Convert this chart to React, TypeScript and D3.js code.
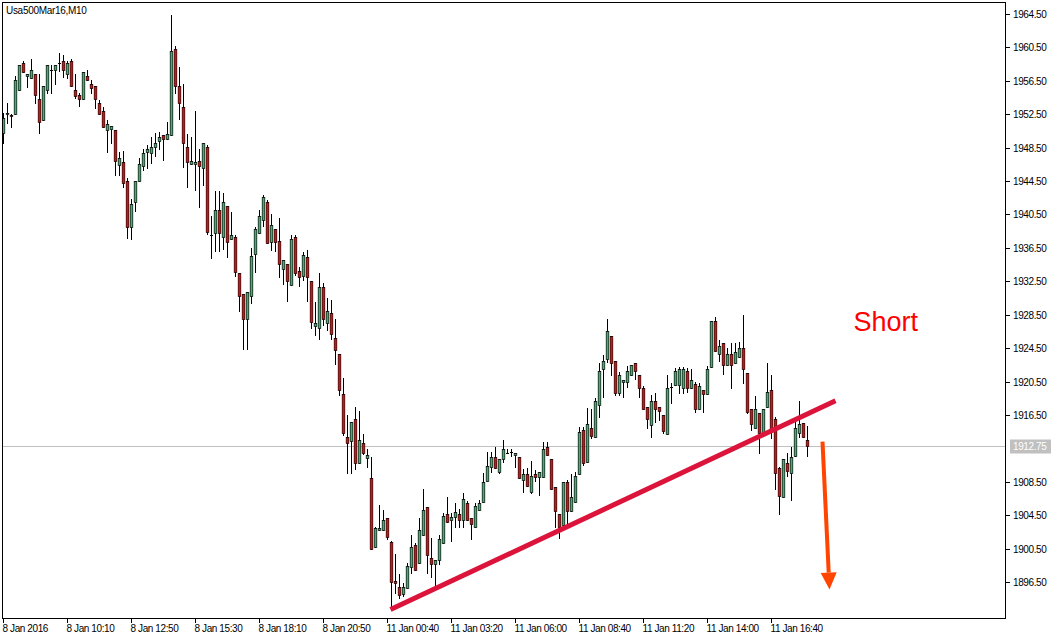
import React from 'react';
import * as d3 from 'd3';

const title = 'Usa500Mar16,M10';

const opens = [
  1950.3, 1952.5, 1952.4, 1952.5, 1955.4, 1958.6, 1957.1, 1956.8, 1957.3, 1954.3,
  1951.8, 1955.4, 1957.8, 1957.8, 1958.6, 1958.9, 1957.3, 1958.9, 1955.4, 1954.8,
  1954.3, 1957.1, 1956.1, 1955.9, 1953.8, 1952.9, 1950.6, 1950.7, 1950.6, 1946.4,
  1946.8, 1944.5, 1939.0, 1942.0, 1944.5, 1946.3, 1948.0, 1947.9, 1948.6, 1949.3,
  1950.0, 1949.5, 1950.0, 1960.3, 1955.9, 1953.4, 1948.6, 1946.6, 1946.5, 1946.9,
  1946.1, 1948.6, 1938.0, 1938.3, 1941.0, 1937.8, 1941.5, 1937.6, 1937.8, 1933.5,
  1931.0, 1928.0, 1930.7, 1935.8, 1938.3, 1939.8, 1942.0, 1937.2, 1938.8, 1937.3,
  1934.0, 1934.6, 1932.1, 1937.8, 1933.7, 1933.1, 1935.4, 1932.5, 1927.2, 1926.9,
  1931.8, 1927.5, 1928.7, 1925.7, 1923.8, 1919.0, 1913.9, 1913.4, 1916.0, 1910.8,
  1913.1, 1911.3, 1909.0, 1900.7, 1902.7, 1902.7, 1904.2, 1901.3, 1896.6, 1895.9,
  1895.1, 1895.8, 1898.3, 1900.9, 1898.8, 1902.1, 1905.5, 1899.4, 1898.7, 1899.1,
  1901.2, 1904.6, 1903.9, 1904.3, 1904.6, 1903.9, 1906.0, 1904.2, 1903.1, 1905.1,
  1906.1, 1908.6, 1910.3, 1911.5, 1909.7, 1911.2, 1911.9, 1912.1, 1911.7, 1911.5,
  1908.7, 1909.4, 1907.3, 1909.4, 1909.1, 1909.1, 1912.7, 1911.2, 1907.9, 1904.6,
  1903.3, 1908.5, 1905.0, 1906.1, 1909.4, 1914.7, 1910.9, 1914.9, 1913.9, 1917.7,
  1922.0, 1923.2, 1926.0, 1923.0, 1919.1, 1920.4, 1920.4, 1921.3, 1922.7, 1921.3,
  1919.7, 1917.5, 1915.3, 1918.2, 1917.5, 1916.5, 1914.2, 1919.8, 1920.1, 1920.1,
  1919.7, 1921.8, 1919.7, 1920.2, 1917.2, 1919.5, 1919.0, 1922.2, 1927.8, 1923.8,
  1925.1, 1922.5, 1923.8, 1922.7, 1923.4, 1924.5, 1921.5, 1917.2, 1914.9, 1916.7,
  1914.3, 1917.5, 1919.5, 1916.0, 1910.2, 1906.7, 1910.8, 1909.6, 1911.6, 1914.3,
  1915.5, 1913.5,
];

const highs = [
  1952.6, 1953.8, 1952.5, 1957.1, 1958.4, 1958.9, 1957.3, 1959.1, 1957.3, 1957.3,
  1955.9, 1958.4, 1958.4, 1958.4, 1959.8, 1959.6, 1958.9, 1959.1, 1957.3, 1955.0,
  1957.6, 1957.8, 1956.6, 1955.9, 1954.2, 1953.4, 1951.8, 1951.1, 1950.6, 1948.0,
  1948.1, 1944.9, 1942.4, 1944.5, 1947.3, 1948.3, 1948.8, 1949.8, 1950.3, 1950.4,
  1950.0, 1951.6, 1964.4, 1960.7, 1958.2, 1956.1, 1950.1, 1949.8, 1952.9, 1948.3,
  1949.1, 1948.8, 1940.3, 1943.3, 1943.3, 1943.1, 1941.5, 1940.8, 1938.0, 1933.5,
  1931.0, 1931.2, 1936.5, 1939.0, 1941.0, 1942.8, 1942.2, 1940.6, 1938.8, 1940.1,
  1935.0, 1934.6, 1938.0, 1938.0, 1934.2, 1936.0, 1936.2, 1932.5, 1930.0, 1933.5,
  1932.3, 1930.5, 1930.3, 1928.0, 1923.8, 1920.9, 1916.5, 1915.7, 1917.5, 1917.0,
  1914.2, 1912.4, 1911.5, 1903.1, 1905.7, 1905.1, 1904.2, 1901.4, 1899.9, 1897.5,
  1896.4, 1898.8, 1902.1, 1901.2, 1904.2, 1907.6, 1905.5, 1901.8, 1899.1, 1902.1,
  1904.8, 1906.7, 1904.8, 1906.0, 1905.2, 1907.2, 1906.2, 1904.2, 1906.0, 1906.3,
  1909.6, 1912.1, 1912.1, 1912.7, 1911.2, 1913.5, 1912.4, 1912.4, 1911.9, 1911.5,
  1910.0, 1910.2, 1911.0, 1909.9, 1909.7, 1913.3, 1913.3, 1911.2, 1907.9, 1904.6,
  1908.5, 1908.7, 1909.4, 1909.7, 1915.1, 1915.1, 1917.3, 1917.2, 1918.5, 1922.7,
  1923.7, 1928.0, 1926.0, 1923.0, 1921.6, 1920.7, 1922.4, 1922.5, 1922.7, 1921.3,
  1920.0, 1917.5, 1918.9, 1919.1, 1917.5, 1916.5, 1921.3, 1920.3, 1922.1, 1922.2,
  1922.2, 1922.1, 1922.0, 1920.4, 1920.3, 1919.5, 1922.4, 1927.8, 1928.2, 1925.5,
  1925.1, 1924.5, 1925.1, 1925.1, 1925.2, 1928.5, 1921.5, 1917.2, 1918.8, 1916.7,
  1917.2, 1922.7, 1921.3, 1916.3, 1910.3, 1911.2, 1911.9, 1912.7, 1915.7, 1918.2,
  1915.5, 1915.2,
];

const lows = [
  1949.1, 1951.4, 1951.0, 1952.5, 1955.4, 1957.6, 1955.8, 1956.8, 1953.8, 1950.3,
  1951.8, 1955.0, 1955.0, 1956.1, 1957.7, 1957.0, 1956.8, 1955.9, 1954.4, 1953.5,
  1954.3, 1956.6, 1955.0, 1953.2, 1952.5, 1951.0, 1948.0, 1949.1, 1945.2, 1945.2,
  1943.8, 1937.7, 1937.6, 1940.9, 1944.5, 1945.8, 1946.1, 1946.7, 1947.5, 1948.3,
  1947.0, 1949.5, 1950.0, 1955.0, 1951.9, 1946.2, 1943.8, 1946.6, 1943.4, 1941.4,
  1944.0, 1938.2, 1935.3, 1936.1, 1936.1, 1936.4, 1935.4, 1937.6, 1933.1, 1928.9,
  1924.4, 1924.4, 1929.9, 1933.6, 1938.3, 1939.1, 1937.1, 1936.2, 1936.1, 1933.0,
  1932.2, 1930.1, 1932.1, 1933.3, 1931.9, 1932.7, 1930.1, 1926.9, 1926.1, 1925.6,
  1927.3, 1926.7, 1925.6, 1922.6, 1918.9, 1914.1, 1909.6, 1909.6, 1910.0, 1910.8,
  1911.8, 1910.3, 1900.5, 1900.7, 1902.7, 1902.7, 1901.6, 1893.2, 1895.2, 1894.6,
  1894.8, 1895.8, 1897.6, 1897.9, 1898.8, 1902.1, 1897.6, 1897.1, 1895.9, 1898.7,
  1901.2, 1903.7, 1901.4, 1903.1, 1903.1, 1903.1, 1903.9, 1901.6, 1903.1, 1905.1,
  1906.1, 1908.6, 1909.7, 1910.2, 1909.6, 1910.9, 1911.9, 1911.6, 1910.3, 1909.0,
  1907.3, 1908.0, 1907.2, 1908.6, 1906.9, 1909.1, 1911.7, 1907.6, 1903.1, 1901.8,
  1903.1, 1903.5, 1905.0, 1906.1, 1909.4, 1910.5, 1910.9, 1913.7, 1913.9, 1916.3,
  1918.6, 1922.8, 1921.3, 1918.9, 1918.9, 1918.6, 1919.8, 1921.3, 1920.8, 1918.6,
  1917.2, 1914.9, 1913.9, 1915.7, 1915.9, 1914.3, 1914.2, 1917.9, 1920.1, 1919.1,
  1919.1, 1919.2, 1919.7, 1916.9, 1917.2, 1916.9, 1919.0, 1922.2, 1924.2, 1923.0,
  1921.4, 1922.5, 1919.7, 1922.7, 1923.4, 1920.3, 1916.7, 1914.7, 1914.9, 1911.9,
  1914.3, 1917.5, 1913.7, 1907.6, 1904.6, 1906.7, 1909.2, 1906.3, 1911.6, 1913.9,
  1913.9, 1911.6,
];

const closes = [
  1952.0, 1952.6, 1952.3, 1956.6, 1958.4, 1957.6, 1957.3, 1957.8, 1954.8, 1951.6,
  1955.9, 1958.4, 1957.8, 1958.4, 1958.6, 1957.8, 1958.6, 1955.9, 1954.7, 1954.3,
  1957.6, 1956.6, 1955.6, 1954.3, 1952.5, 1951.0, 1951.3, 1951.1, 1946.9, 1947.3,
  1944.3, 1939.0, 1941.8, 1944.5, 1946.5, 1947.9, 1948.3, 1948.6, 1949.1, 1949.8,
  1949.5, 1950.1, 1960.1, 1955.9, 1953.8, 1949.1, 1946.8, 1946.9, 1946.8, 1946.3,
  1949.1, 1938.4, 1938.0, 1941.0, 1938.3, 1942.0, 1937.2, 1938.0, 1933.6, 1930.7,
  1928.0, 1931.2, 1935.5, 1938.8, 1940.3, 1942.6, 1937.1, 1939.2, 1937.2, 1934.6,
  1935.0, 1932.5, 1937.6, 1933.5, 1933.0, 1935.6, 1933.0, 1927.6, 1927.5, 1931.8,
  1928.0, 1928.9, 1926.2, 1924.3, 1919.5, 1914.3, 1913.1, 1915.7, 1910.8, 1913.5,
  1911.9, 1911.7, 1900.5, 1903.0, 1903.0, 1903.9, 1901.9, 1896.5, 1896.4, 1895.0,
  1895.9, 1898.4, 1900.7, 1897.9, 1902.7, 1905.1, 1899.7, 1898.7, 1899.1, 1901.6,
  1904.4, 1903.7, 1904.3, 1904.9, 1903.9, 1906.4, 1903.9, 1903.5, 1905.6, 1906.0,
  1908.5, 1910.4, 1911.5, 1910.2, 1911.2, 1912.4, 1911.9, 1912.1, 1911.9, 1909.0,
  1909.4, 1908.0, 1909.2, 1909.1, 1909.7, 1912.4, 1911.7, 1907.6, 1905.0, 1903.1,
  1908.5, 1905.0, 1906.7, 1909.2, 1914.5, 1910.8, 1915.4, 1914.0, 1918.2, 1921.8,
  1923.0, 1926.6, 1922.7, 1919.1, 1921.3, 1920.7, 1921.8, 1922.5, 1921.8, 1919.7,
  1917.2, 1916.0, 1918.2, 1917.2, 1917.0, 1914.6, 1919.7, 1919.8, 1921.8, 1922.0,
  1922.0, 1919.7, 1920.7, 1917.2, 1920.0, 1919.0, 1922.0, 1927.8, 1924.2, 1924.8,
  1922.5, 1923.8, 1922.5, 1924.0, 1924.5, 1922.0, 1916.9, 1915.4, 1917.2, 1914.3,
  1917.2, 1919.2, 1914.5, 1909.6, 1906.8, 1911.2, 1909.8, 1911.5, 1914.9, 1915.4,
  1913.9, 1912.75,
];

const timeLabels = [
  '8 Jan 2016', '8 Jan 10:10', '8 Jan 12:50', '8 Jan 15:30', '8 Jan 18:10',
  '8 Jan 20:50', '11 Jan 00:40', '11 Jan 03:20', '11 Jan 06:00', '11 Jan 08:40',
  '11 Jan 11:20', '11 Jan 14:00', '11 Jan 16:40',
];
const barsPerLabel = 16;

const priceTicks = [
  1964.5, 1960.5, 1956.5, 1952.5, 1948.5, 1944.5, 1940.5, 1936.5, 1932.5,
  1928.5, 1924.5, 1920.5, 1916.5, 1908.5, 1904.5, 1900.5, 1896.5,
];
const lastPrice = 1912.75;

const trendLine = [
  { bar: 96.75, price: 1893.2 },
  { bar: 208, price: 1918.2 },
];
const shortArrow = [
  { bar: 204.75, price: 1913.3 },
  { bar: 206.5, price: 1895.6 },
];
const noteLabel = 'Short';
const notePos = { bar: 212.5, price: 1926.6 };

const UP = '#3cb371';
const DOWN = '#ff0000';
const FONT = '"Liberation Sans", Arial, sans-serif';

export default function App() {
  const W = 1061;
  const H = 639;
  const plotL = 2;
  const plotT = 2;
  const plotR = 1005;
  const plotB = 618;

  const x = d3.scaleLinear().domain([0, barsPerLabel]).range([3.5, 3.5 + 64]);
  const y = d3.scaleLinear().domain([1964.5, 1896.5]).range([14, 582]);
  const r = (v: number) => Math.round(v);

  const arrowStart = [x(shortArrow[0].bar), y(shortArrow[0].price)];
  const arrowEnd = [x(shortArrow[1].bar), y(shortArrow[1].price)];
  const dx = arrowEnd[0] - arrowStart[0];
  const dy = arrowEnd[1] - arrowStart[1];
  const len = Math.hypot(dx, dy);
  const ux = dx / len;
  const uy = dy / len;
  const headL = 17;
  const headW = 8;
  const baseX = arrowEnd[0] - ux * headL;
  const baseY = arrowEnd[1] - uy * headL;
  const head = [
    [arrowEnd[0], arrowEnd[1]],
    [baseX - uy * headW, baseY + ux * headW],
    [baseX + uy * headW, baseY - ux * headW],
  ];

  const lastY = r(y(lastPrice)) + 0.5;

  return (
    <svg
      width={W}
      height={H}
      style={{ position: 'absolute', left: 0, top: 0, background: '#fff' }}
      xmlns="http://www.w3.org/2000/svg"
    >
      <rect x={0} y={0} width={W} height={H} fill="#fff" />
      <defs>
        <clipPath id="plot">
          <rect x={plotL} y={plotT} width={plotR - plotL} height={plotB - plotT} />
        </clipPath>
      </defs>

      {/* last price line */}
      <line x1={plotL} x2={plotR} y1={lastY} y2={lastY} stroke="#c0c0c0" strokeWidth={1} />

      {/* candles */}
      <g clipPath="url(#plot)">
        {opens.map((o, i) => {
          const c = closes[i];
          const h = highs[i];
          const l = lows[i];
          const cx = x(i);
          const yh = r(y(h));
          const yl = r(y(l));
          const yt = r(y(Math.max(o, c)));
          const yb = r(y(Math.min(o, c)));
          const up = c >= o;
          return (
            <g key={i}>
              <line x1={cx} x2={cx} y1={yh} y2={yl + 1} stroke="#000" strokeWidth={1} />
              {yb - yt >= 1 ? (
                <rect
                  x={cx - 1.3}
                  y={yt + 0.5}
                  width={2.6}
                  height={yb - yt}
                  fill={up ? UP : DOWN}
                  stroke="#000"
                  strokeWidth={0.7}
                />
              ) : (
                <line x1={cx - 1.5} x2={cx + 1.5} y1={yt + 0.5} y2={yt + 0.5} stroke="#000" strokeWidth={1} />
              )}
            </g>
          );
        })}
      </g>

      {/* drawn objects */}
      <line
        x1={x(trendLine[0].bar)}
        y1={y(trendLine[0].price)}
        x2={x(trendLine[1].bar)}
        y2={y(trendLine[1].price)}
        stroke="#dc143c"
        strokeWidth={5}
      />
      <line
        x1={arrowStart[0]}
        y1={arrowStart[1]}
        x2={baseX}
        y2={baseY}
        stroke="#ff4500"
        strokeWidth={4}
      />
      <polygon points={head.map((p) => p.join(',')).join(' ')} fill="#ff4500" />
      <text
        x={x(notePos.bar)}
        y={y(notePos.price)}
        fill="#ff0000"
        fontFamily={FONT}
        fontSize={27}
      >
        {noteLabel}
      </text>

      {/* frame */}
      <rect
        x={plotL + 0.5}
        y={plotT + 0.5}
        width={plotR - plotL}
        height={plotB - plotT}
        fill="none"
        stroke="#000"
        strokeWidth={1}
      />

      {/* title */}
      <text x={6} y={14} fontFamily={FONT} fontSize={10} letterSpacing={-0.3} fill="#000">
        {title}
      </text>

      {/* price axis */}
      {priceTicks.map((p) => {
        const ty = r(y(p)) + 0.5;
        return (
          <g key={p}>
            <line x1={plotR + 0.5} x2={plotR + 5} y1={ty} y2={ty} stroke="#000" />
            <text
              x={plotR + 8}
              y={ty + 3.5}
              fontFamily={FONT}
              fontSize={10}
              letterSpacing={-0.4}
              fill="#000"
            >
              {p.toFixed(2)}
            </text>
          </g>
        );
      })}
      <rect x={plotR + 5} y={lastY - 7} width={41} height={14} fill="#c0c0c0" />
      <text
        x={plotR + 8}
        y={lastY + 3.5}
        fontFamily={FONT}
        fontSize={10}
        letterSpacing={-0.4}
        fill="#fff"
      >
        {lastPrice.toFixed(2)}
      </text>

      {/* time axis */}
      {timeLabels.map((lab, k) => {
        const tx = r(x(k * barsPerLabel) - 0.5) + 0.5;
        return (
          <g key={lab}>
            <line x1={tx} x2={tx} y1={plotB} y2={plotB + 5} stroke="#000" />
            <text
              x={tx - 1}
              y={632}
              fontFamily={FONT}
              fontSize={10}
              letterSpacing={-0.4}
              fill="#000"
            >
              {lab}
            </text>
          </g>
        );
      })}
    </svg>
  );
}
